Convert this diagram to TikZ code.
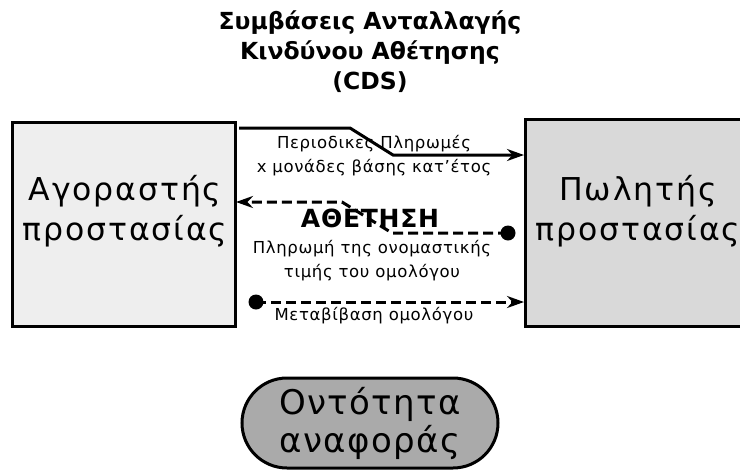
\documentclass[tikz,border=0pt]{standalone}
\usepackage{fontspec}
\setmainfont{DejaVu Sans}
\newfontfamily\boxfont[LetterSpace=6]{DejaVu Sans}
\newfontfamily\ovalfont[LetterSpace=4]{DejaVu Sans}
\newfontfamily\midfont[LetterSpace=4]{DejaVu Sans}
\newfontfamily\alertfont[LetterSpace=3]{DejaVu Sans Bold}
\usetikzlibrary{arrows.meta}
\definecolor{boxA}{HTML}{EEEEEE}
\definecolor{boxB}{HTML}{D9D9D9}
\definecolor{ovalC}{HTML}{AAAAAA}
\tikzset{
  party/.style={draw=black, line width=3pt, align=center, font=\boxfont\fontsize{31.5}{40}\selectfont},
  flow/.style={line width=3pt, -{Stealth[length=17pt,width=12pt]}},
  dflow/.style={flow, dash pattern=on 10pt off 5pt},
  lbl/.style={align=center, font=\midfont\fontsize{16.5}{24}\selectfont},
  dotend/.style={circle, fill=black, inner sep=0pt, minimum size=15pt},
}
\begin{document}
\begin{tikzpicture}[x=1pt,y=-1pt]
\useasboundingbox (0,0) rectangle (740,472);
\clip (0,0) rectangle (740,472);
% title
\node[font=\bfseries\fontsize{23.5}{30}\selectfont, align=center] (title) at (370,52) {Συμβάσεις Ανταλλαγής\\Κινδύνου Αθέτησης\\(CDS)};
% boxes
\path[party, fill=boxA] (12,122) rectangle (235,326);
\node[party, draw=none] (buyer) at (125,211) {Αγοραστής\\προστασίας};
\path[party, fill=boxB] (525,119) rectangle (751,326);
\node[party, draw=none] (seller) at (638,211) {Πωλητής\\προστασίας};
% connectors
\coordinate (a1) at (239,128);
\coordinate (a2) at (350,128);
\coordinate (a3) at (393,155);
\coordinate (a4) at (524,155);
\draw[flow] (a1) -- (a2) -- (a3) -- (a4);
\node[dotend] (d1) at (508,233) {};
\coordinate (b2) at (392,233);
\coordinate (b3) at (342,202);
\coordinate (b4) at (236,202);
\draw[dflow] (d1.center) -- (b2) -- (b3) -- (b4);
\node[dotend] (d2) at (256,302) {};
\coordinate (c2) at (524,302);
\draw[dflow] (d2.center) -- (c2);
% labels
\node[lbl] (l1) at (374,156) {Περιοδικες Πληρωμές\\x μονάδες βάσης κατ’έτος};
\node[font=\alertfont\fontsize{25}{28}\selectfont] (l2) at (370,218) {ΑΘΕΤΗΣΗ};
\node[lbl] (l3) at (372,261) {Πληρωμή της ονομαστικής\\τιμής του ομολόγου};
\node[lbl] (l4) at (374,316) {Μεταβίβαση ομολόγου};
% reference entity
\node[draw=black, line width=3pt, fill=ovalC, rounded corners=45pt, minimum width=256pt, minimum height=90pt, align=center, font=\ovalfont\fontsize{34}{38}\selectfont] (ref) at (370,423) {Οντότητα\\αναφοράς};
\end{tikzpicture}
\end{document}
